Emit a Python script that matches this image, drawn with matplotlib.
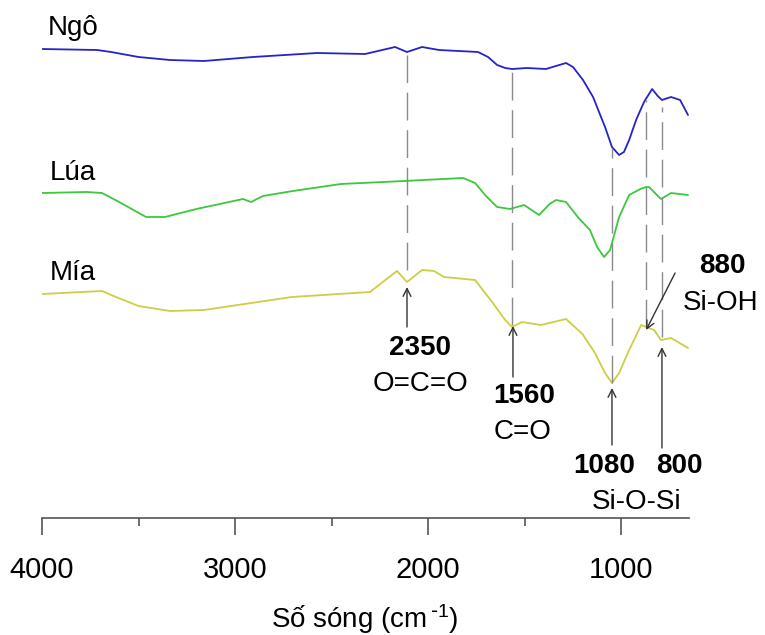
import matplotlib
matplotlib.use("Agg")
import matplotlib.pyplot as plt
from matplotlib.ticker import MultipleLocator

plt.rcParams['font.family'] = ['Liberation Sans', 'DejaVu Sans']
plt.rcParams['mathtext.default'] = 'regular'

# ---- data (wavenumber cm-1, signal a.u., offset stacked) ----
ngo_wn = [4000, 3715, 3642, 3500, 3337, 3161, 2907, 2575, 2326, 2171, 2109, 2031, 1943, 1741,
          1689, 1642, 1600, 1565, 1487, 1389, 1320, 1285, 1249, 1197, 1145, 1083, 1047, 1010,
          985, 958, 922, 881, 839, 810, 788, 741, 694, 653]
ngo_val = [469, 468, 466, 461, 458, 457, 461, 465, 464, 471, 466, 471, 468, 466,
           461, 453, 450, 449, 450, 449, 453, 455, 451, 438, 421, 391, 371, 363,
           366, 378, 398, 416, 429, 422, 418, 421, 418, 403]

lua_wn = [4000, 3767, 3689, 3600, 3461, 3363, 3200, 2959, 2917, 2855, 2700, 2451, 2124, 1819,
          1756, 1700, 1642, 1575, 1502, 1425, 1370, 1337, 1285, 1220, 1161, 1124, 1088, 1057,
          1010, 958, 900, 870, 855, 793, 741, 653]
lua_val = [325, 326, 325, 316, 301, 301, 309, 319, 316, 322, 327, 334, 337, 340,
           335, 322, 311, 309, 313, 303, 314, 318, 316, 300, 288, 271, 261, 268,
           301, 323, 329, 331, 331, 319, 325, 323]

mia_wn = [4000, 3689, 3617, 3500, 3337, 3161, 2705, 2301, 2161, 2109, 2031, 1969, 1917, 1756,
          1668, 1600, 1565, 1513, 1415, 1285, 1200, 1135, 1083, 1047, 1010, 958, 933, 896,
          829, 793, 741, 653]
mia_val = [224, 227, 221, 212, 207, 208, 221, 226, 247, 236, 248, 247, 241, 238,
           216, 198, 191, 196, 193, 199, 184, 165, 145, 135, 145, 168, 178, 193,
           188, 178, 180, 170]

series_colors = ['#2424C8', '#3CC83C', '#CDCD46']

# dashed guide lines at the marked bands
peak_pos = [2109, 1565, 1047, 870, 788]
peak_top = [463, 446, 370, 418, 411]
peak_bottom = [248, 193, 135, 191, 181]

x_ticks = [4000, 3000, 2000, 1000]

# ---- figure ----
W, H = 765, 635
fig = plt.figure(figsize=(W / 100, H / 100), dpi=100)
ax = fig.add_axes([42 / W, (H - 518) / H, (688.6 - 42) / W, 518 / H])
ax.set_xlim(4000, 650)
ax.set_ylim(0, 518)

for wn, val, col in zip([ngo_wn, lua_wn, mia_wn], [ngo_val, lua_val, mia_val], series_colors):
    ax.plot(wn, val, color=col, lw=1.3, solid_joinstyle='round', solid_capstyle='round')

ax.vlines(peak_pos, peak_bottom, peak_top, colors='#8a8a8a', lw=1.0,
          linestyles=(0, (20, 7)))

fs = 20
ax.text(3969, 483, 'Ngô', fontsize=fs, ha='left', va='baseline')
ax.text(3959, 338, 'Lúa', fontsize=fs, ha='left', va='baseline')
ax.text(3959, 238, 'Mía', fontsize=fs, ha='left', va='baseline')

ax.text(2041, 163, '2350', fontsize=fs, fontweight='bold', ha='center', va='baseline')
ax.text(2041, 127, 'O=C=O', fontsize=fs, ha='center', va='baseline')
ax.text(1503, 115, '1560', fontsize=fs, fontweight='bold', ha='center', va='baseline')
ax.text(1508, 79, 'C=O', fontsize=fs, ha='center', va='baseline')
ax.text(1088, 45, '1080', fontsize=fs, fontweight='bold', ha='center', va='baseline')
ax.text(700, 45, '800', fontsize=fs, fontweight='bold', ha='center', va='baseline')
ax.text(917, 9, 'Si-O-Si', fontsize=fs, ha='center', va='baseline')
ax.text(477, 245, '880', fontsize=fs, fontweight='bold', ha='center', va='baseline')
ax.text(482, 208, 'Si-OH', fontsize=fs, ha='center', va='baseline')

arrow_kw = dict(arrowstyle='->', color='#333333', lw=1.0, shrinkA=0, shrinkB=0,
                mutation_scale=14)
ax.annotate('', xy=(2109, 231), xytext=(2109, 191), arrowprops=arrow_kw)
ax.annotate('', xy=(1560, 192), xytext=(1560, 141), arrowprops=arrow_kw)
ax.annotate('', xy=(1047, 130), xytext=(1047, 73), arrowprops=arrow_kw)
ax.annotate('', xy=(788, 171), xytext=(788, 70), arrowprops=arrow_kw)
ax.annotate('', xy=(870, 188), xytext=(720, 245), arrowprops=arrow_kw)

for s in ['top', 'right', 'left']:
    ax.spines[s].set_visible(False)
ax.spines['bottom'].set_color('#555555')
ax.spines['bottom'].set_linewidth(1.2)
ax.set_yticks([])
ax.set_xticks(x_ticks)
ax.set_xticklabels([str(t) for t in x_ticks])
ax.xaxis.set_minor_locator(MultipleLocator(500))
ax.tick_params(axis='x', which='major', direction='out', length=12, width=1.2,
               color='#555555', labelsize=21, pad=15)
ax.tick_params(axis='x', which='minor', direction='out', length=6, width=1.2,
               color='#555555')

fig.text(365 / W, (H - 628) / H, 'Số sóng (cm$^{\\,\\text{-}1}$)', fontsize=fs,
         ha='center', va='baseline')

fig.savefig('out.png', dpi=100)
